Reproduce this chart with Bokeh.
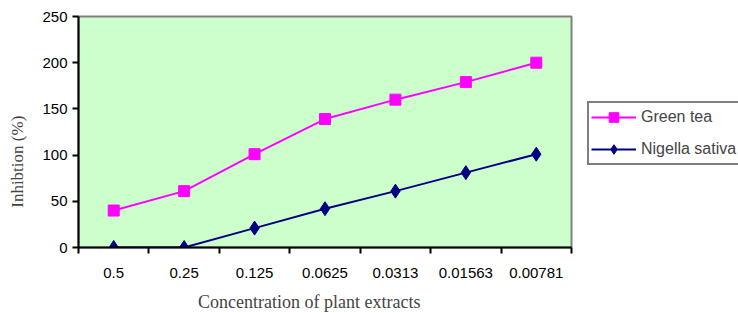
from bokeh.plotting import figure
from bokeh.models import FixedTicker, Range1d, Legend, LegendItem
from bokeh.embed import file_html
from bokeh.resources import INLINE

categories = ["0.5", "0.25", "0.125", "0.0625", "0.0313", "0.01563", "0.00781"]
green_tea = [40, 61, 101, 139, 160, 179, 200]
nigella = [0, 0, 21, 42, 61, 81, 101]
y_ticks = [0, 50, 100, 150, 200, 250]

xs = [i + 0.5 for i in range(len(categories))]
NB = "\u00a0"

p = figure(frame_width=493, frame_height=231, output_backend="svg", toolbar_location=None,
           x_range=Range1d(0, len(categories)), y_range=Range1d(0, 250),
           min_border_left=78, min_border_right=167, min_border_top=16, min_border_bottom=66)
p.background_fill_color = "#CCFFCC"
p.border_fill_color = "white"
p.outline_line_color = "#808080"
p.outline_line_width = 2
p.xgrid.visible = False
p.ygrid.visible = False

# x axis: labels at category centres, ticks at boundaries
p.xaxis.ticker = FixedTicker(ticks=xs, minor_ticks=list(range(len(categories) + 1)))
p.xaxis.major_label_overrides = {x: c for x, c in zip(xs, categories)}
p.xaxis.major_tick_out = 0
p.xaxis.major_tick_in = 0
p.xaxis.minor_tick_out = 6
p.xaxis.minor_tick_in = 0
p.xaxis.minor_tick_line_color = "black"
p.xaxis.minor_tick_line_width = 2
p.xaxis.axis_line_color = "black"
p.xaxis.axis_line_width = 2
p.xaxis.major_label_text_font = "Liberation Sans"
p.xaxis.major_label_text_font_size = "15px"
p.xaxis.major_label_text_color = "black"
p.xaxis.major_label_standoff = 14
p.xaxis.axis_label = "Concentration of plant extracts" + NB * 7
p.xaxis.axis_label_text_font = "Liberation Serif"
p.xaxis.axis_label_text_font_style = "normal"
p.xaxis.axis_label_text_font_size = "18px"
p.xaxis.axis_label_standoff = 11

p.yaxis.ticker = FixedTicker(ticks=y_ticks, minor_ticks=[])
p.yaxis.major_tick_out = 6
p.yaxis.major_tick_in = 0
p.yaxis.major_tick_line_width = 2
p.yaxis.major_tick_line_color = "black"
p.yaxis.axis_line_color = "black"
p.yaxis.axis_line_width = 2
p.yaxis.major_label_text_font = "Liberation Sans"
p.yaxis.major_label_text_font_size = "15px"
p.yaxis.major_label_text_color = "black"
p.yaxis.major_label_standoff = 5
p.yaxis.axis_label = "Inhibtion (%)" + NB * 14
p.yaxis.axis_label_text_font = "Liberation Serif"
p.yaxis.axis_label_text_font_style = "normal"
p.yaxis.axis_label_text_font_size = "17px"
p.yaxis.axis_label_standoff = 12

gl = p.line(xs, green_tea, line_color="#FF00FF", line_width=2)
gm = p.scatter(xs, green_tea, marker="square", size=11, fill_color="#FF00FF", line_color="#FF00FF")
nl = p.line(xs, nigella, line_color="#000080", line_width=2)
nm = p.scatter(xs, nigella, marker="diamond", size=14, fill_color="#000080", line_color="#000080")

legend = Legend(items=[LegendItem(label="Green tea", renderers=[gl, gm]),
                       LegendItem(label="Nigella sativa", renderers=[nl, nm])],
                location=(16, 82))
legend.border_line_color = "black"
legend.border_line_width = 2
legend.background_fill_color = "white"
legend.background_fill_alpha = 1
legend.label_text_font = "Liberation Sans"
legend.label_text_font_size = "16px"
legend.glyph_width = 45
legend.glyph_height = 24
legend.label_height = 24
legend.spacing = 8
legend.padding = 2
legend.margin = 0
legend.label_standoff = 5
p.add_layout(legend, "right")

open("out.html", "w").write(file_html(p, INLINE))
